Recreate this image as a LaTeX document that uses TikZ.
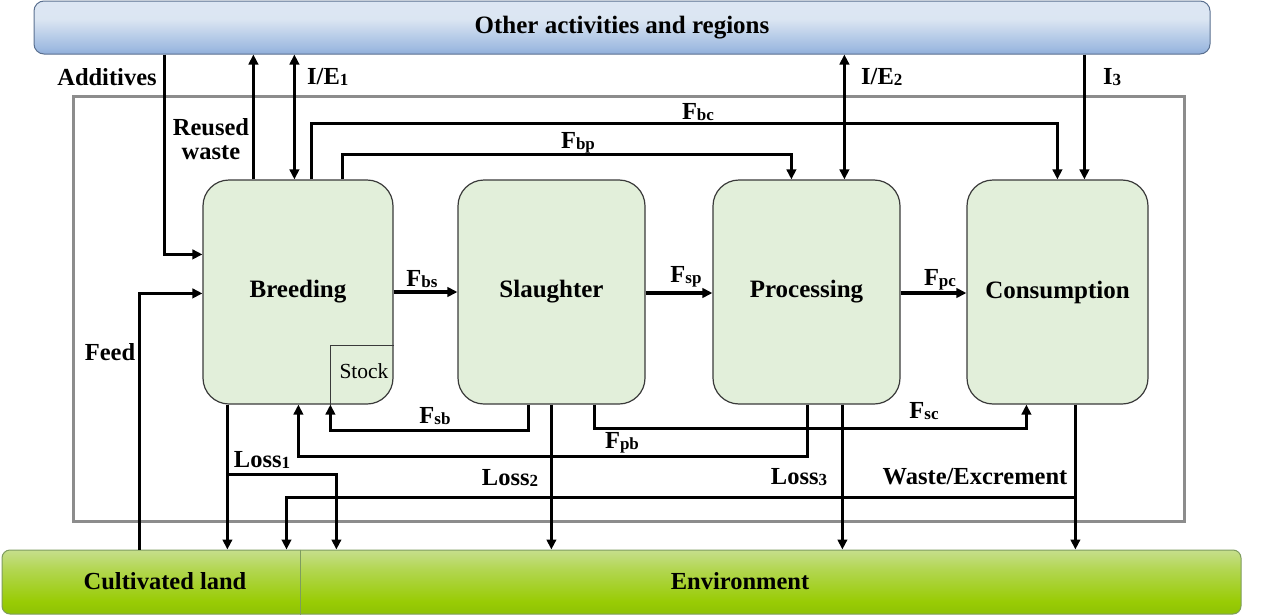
\documentclass[tikz,border=0pt]{standalone}
\usepackage{fontspec}
\setmainfont{Liberation Serif}[BoldFont={Liberation Serif Bold},ItalicFont={Liberation Serif Italic}]
\usetikzlibrary{arrows.meta,calc}
\definecolor{boxfill}{HTML}{E2EFDA}
\definecolor{boxline}{HTML}{3A3A3A}
\definecolor{frame}{HTML}{8C8C8C}
\definecolor{topline}{HTML}{5A7090}
\definecolor{groundline}{HTML}{7E9C5E}
\pgfdeclareverticalshading{bluebar}{100bp}{rgb(0bp)=(0.31,0.44,0.66); rgb(8bp)=(0.36,0.50,0.73); rgb(30bp)=(0.62,0.73,0.88); rgb(58bp)=(0.86,0.90,0.95); rgb(100bp)=(0.87,0.91,0.96)}
\pgfdeclareverticalshading{greenbar}{100bp}{rgb(0bp)=(0.38,0.60,0.06); rgb(12bp)=(0.50,0.71,0.02); rgb(35bp)=(0.60,0.80,0.02); rgb(60bp)=(0.70,0.84,0.32); rgb(88bp)=(0.84,0.90,0.75); rgb(100bp)=(0.86,0.91,0.80)}
\newcommand\sbs[1]{\raisebox{-1pt}{\fontsize{17}{18}\selectfont #1}}
\begin{document}
\begin{tikzpicture}[x=1pt,y=-1pt,
  flow/.style={line width=3.3pt,-{Triangle[length=10pt,width=9.5pt]}},
  both/.style={line width=3.3pt,{Triangle[length=10pt,width=9.5pt]}-{Triangle[length=10pt,width=9.5pt]}},
  stage/.style={draw=boxline,fill=boxfill,line width=1.2pt,rounded corners=26pt,minimum height=224pt,inner sep=0pt,font=\fontsize{25}{28}\selectfont\bfseries},
  lbl/.style={font=\fontsize{24.5}{27}\selectfont\bfseries,inner sep=0pt},
]
\useasboundingbox (0,0) rectangle (1270,616);
% bars and frame
\node[draw=topline,line width=1pt,rounded corners=10pt,shading=bluebar,minimum width=1176pt,minimum height=53pt,inner sep=0pt,font=\fontsize{25}{28}\selectfont\bfseries] (other) at (622,27.5) {Other activities and regions};
\node[draw=frame,line width=3pt,minimum width=1111pt,minimum height=425pt,inner sep=0pt] (system) at (628.5,308.5) {};
\node[draw=groundline,line width=1pt,rounded corners=8pt,shading=greenbar,minimum width=1239pt,minimum height=64pt,inner sep=0pt] (ground) at (621.5,582) {};
\draw[groundline,line width=0.8pt] ($(ground.north west)+(299,0)$) -- ($(ground.south west)+(299,0)$);
\node[lbl] (land) at (165,581) {Cultivated land};
\node[lbl] (env) at (740,581) {Environment};
% stages
\node[stage,minimum width=190pt] (breed) at (298,292) {Breeding};
\node[stage,minimum width=187pt] (slau) at (551.5,292) {Slaughter};
\node[stage,minimum width=187pt] (proc) at (806.5,292) {\raisebox{4pt}{Processing}};
\node[stage,minimum width=181pt] (cons) at (1057.5,292) {\raisebox{4pt}{Consumption}};
\draw[boxline,line width=1.2pt] ($(breed.south west)+(128,0)$) -- ($(breed.south west)+(128,-59)$) -- ($(breed.south east)+(0,-59)$);
\node[font=\fontsize{21.5}{24}\selectfont,inner sep=0pt] (stock) at (364,371) {Stock};
% top flows
\draw[flow] ($(other.south west)+(131,0)$) |- ($(breed.north west)+(0,75)$);
\draw[flow] ($(ground.north west)+(138,0)$) |- ($(breed.north west)+(0,114)$);
\draw[flow] ($(breed.north west)+(51,0)$) coordinate (rw) -- (rw |- other.south);
\draw[both] ($(breed.north west)+(92,0)$) coordinate (ie1) -- (ie1 |- other.south);
\draw[flow] ($(breed.north west)+(109,0)$) -- ++(0,-56) -| ($(cons.north west)+(91,0)$);
\draw[flow] ($(breed.north west)+(140,0)$) -- ++(0,-25) -| ($(proc.north west)+(79,0)$);
\draw[both] ($(proc.north west)+(132,0)$) coordinate (ie2) -- (ie2 |- other.south);
\coordinate (i3) at ($(cons.north west)+(118,0)$);
\draw[flow] (i3 |- other.south) -- (i3);
% horizontal chain
\draw[flow] (breed.east) -- (slau.west);
\draw[flow] ($(slau.east)+(0,1)$) -- ($(proc.west)+(0,1)$);
\draw[flow] ($(proc.east)+(0,1)$) -- ($(cons.west)+(0,1)$);
% bottom flows
\draw[flow] ($(breed.south west)+(25,0)$) coordinate (l1) -- (l1 |- ground.north);
\draw[flow] ($(l1)+(0,70)$) -| ($(l1 |- ground.north)+(109,0)$);
\draw[flow] ($(slau.south west)+(71,0)$) -- ++(0,26) -| ($(breed.south west)+(128,0)$);
\draw[flow] ($(proc.south west)+(95,0)$) -- ++(0,52) -| ($(breed.south west)+(96,0)$);
\draw[flow] ($(slau.south west)+(137,0)$) -- ++(0,24) -| ($(cons.south west)+(60,0)$);
\draw[flow] ($(slau.south west)+(94,0)$) coordinate (l2) -- (l2 |- ground.north);
\draw[flow] ($(proc.south west)+(130,0)$) coordinate (l3) -- (l3 |- ground.north);
\draw[flow] ($(cons.south west)+(109,0)$) coordinate (w) -- (w |- ground.north);
\draw[flow] ($(w)+(0,93)$) -| ($(ground.north west)+(285,0)$);
% labels
\node[lbl] (tadd) at (107,77) {Additives};
\node[lbl,align=center,font=\fontsize{24.5}{24}\selectfont\bfseries] (trw) at (211,139) {Reused\\waste};
\node[lbl,anchor=west] (tie1) at (307,77) {I/E\sbs{1}};
\node[lbl] (tbc) at (698,112) {F\sbs{bc}};
\node[lbl] (tbp) at (578,143) {F\sbs{bp}};
\node[lbl,anchor=west] (tie2) at (861,77) {I/E\sbs{2}};
\node[lbl,anchor=west] (ti3) at (1103,77) {I\sbs{3}};
\node[lbl] (tbs) at (422,279) {F\sbs{bs}};
\node[lbl] (tsp) at (686,277) {F\sbs{sp}};
\node[lbl] (tpc) at (940,280) {F\sbs{pc}};
\node[lbl] (tfeed) at (110,352) {Feed};
\node[lbl] (tsb) at (435,416) {F\sbs{sb}};
\node[lbl] (tl1) at (262,460) {Loss\sbs{1}};
\node[lbl] (tpb) at (622,443) {F\sbs{pb}};
\node[lbl] (tsc) at (924,411) {F\sbs{sc}};
\node[lbl] (tl2) at (510,478) {Loss\sbs{2}};
\node[lbl] (tl3) at (799,477) {Loss\sbs{3}};
\node[lbl] (tw) at (975,477) {Waste/Excrement};
\end{tikzpicture}
\end{document}
